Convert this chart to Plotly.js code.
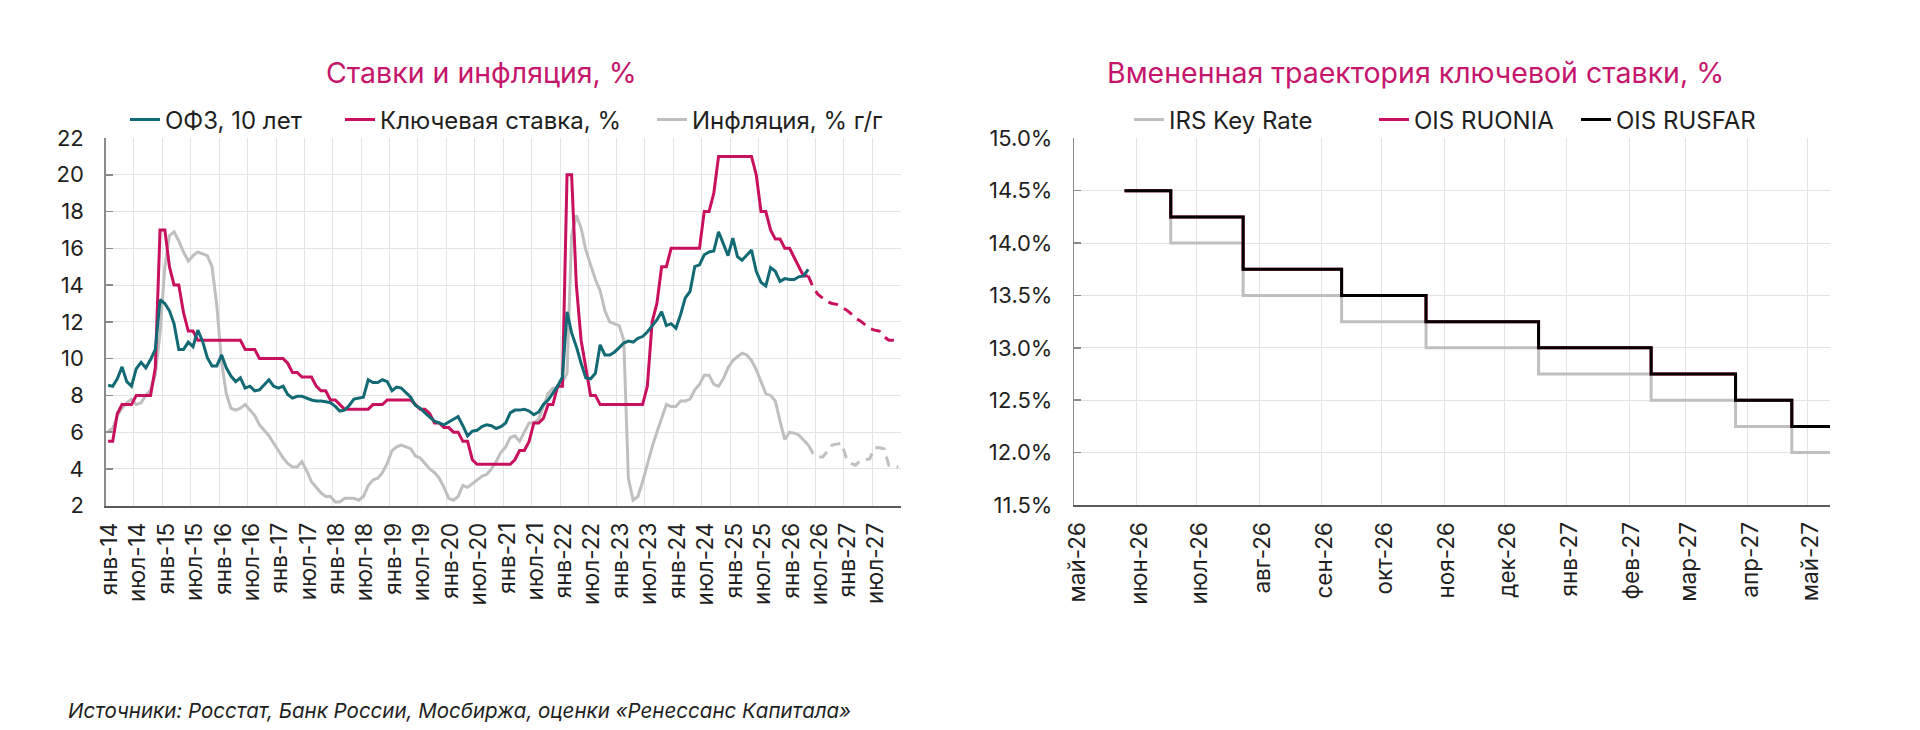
<!DOCTYPE html>
<html lang="ru">
<head>
<meta charset="utf-8">
<title>Ставки и инфляция</title>
<script src="https://cdn.plot.ly/plotly-3.0.1.min.js"></script>
<style>
  html, body { margin: 0; padding: 0; background: #ffffff; }
  #chart { width: 1920px; height: 730px; }
</style>
</head>
<body>
<div id="chart"></div>
<script>
// ---------- Left panel: monthly data from Jan 2014 ----------
const ofz10y = [
  8.55, 8.5, 8.9, 9.55, 8.75, 8.5, 9.45, 9.8, 9.5, 9.95, 10.5, 13.2,      // 2014
  13.0, 12.6, 11.9, 10.5, 10.5, 10.9, 10.65, 11.55, 10.95, 10.05, 9.6, 9.6, // 2015
  10.2, 9.5, 9.05, 8.75, 8.95, 8.4, 8.5, 8.25, 8.3, 8.55, 8.85, 8.5,      // 2016
  8.4, 8.5, 8.05, 7.85, 7.95, 7.95, 7.85, 7.75, 7.7, 7.7, 7.65, 7.6,      // 2017
  7.4, 7.15, 7.2, 7.45, 7.8, 7.85, 7.9, 8.85, 8.7, 8.7, 8.85, 8.75,       // 2018
  8.25, 8.45, 8.4, 8.15, 7.9, 7.45, 7.3, 7.05, 6.8, 6.6, 6.5, 6.4,        // 2019
  6.55, 6.7, 6.85, 6.35, 5.8, 6.05, 6.1, 6.3, 6.4, 6.35, 6.2, 6.3,        // 2020
  6.5, 7.05, 7.2, 7.2, 7.25, 7.15, 6.95, 7.1, 7.5, 7.75, 8.15, 8.5,       // 2021
  9.0, 12.55, 11.4, 10.65, 9.75, 8.95, 8.9, 9.2, 10.75, 10.2, 10.2, 10.35, // 2022
  10.6, 10.85, 10.95, 10.9, 11.1, 11.2, 11.45, 11.8, 12.1, 12.55, 11.8, 11.9, // 2023
  11.65, 12.4, 13.3, 13.65, 15.0, 15.1, 15.65, 15.8, 15.85, 16.9, 16.2, 15.6, // 2024
  16.55, 15.55, 15.35, 15.6, 15.9, 14.75, 14.15, 13.95, 14.95, 14.75, 14.2, 14.35, // 2025
  14.3, 14.3, 14.45, 14.5, 14.85                                           // 2026
];

const keyRate = [
  5.5, 5.5, 7.0, 7.5, 7.5, 7.5, 8.0, 8.0, 8.0, 8.0, 9.5, 17,              // 2014
  17, 15, 14, 14, 12.5, 11.5, 11.5, 11, 11, 11, 11, 11,                   // 2015
  11, 11, 11, 11, 11, 10.5, 10.5, 10.5, 10, 10, 10, 10,                   // 2016
  10, 10, 9.75, 9.25, 9.25, 9.0, 9.0, 9.0, 8.5, 8.25, 8.25, 7.75,         // 2017
  7.75, 7.5, 7.25, 7.25, 7.25, 7.25, 7.25, 7.25, 7.5, 7.5, 7.5, 7.75,     // 2018
  7.75, 7.75, 7.75, 7.75, 7.75, 7.5, 7.25, 7.25, 7.0, 6.5, 6.5, 6.25,     // 2019
  6.25, 6.0, 6.0, 5.5, 5.5, 4.5, 4.25, 4.25, 4.25, 4.25, 4.25, 4.25,      // 2020
  4.25, 4.25, 4.5, 5.0, 5.0, 5.5, 6.5, 6.5, 6.75, 7.5, 7.5, 8.5,          // 2021
  8.5, 20, 20, 14, 11, 9.5, 8, 8, 7.5, 7.5, 7.5, 7.5,                     // 2022
  7.5, 7.5, 7.5, 7.5, 7.5, 7.5, 8.5, 12, 13, 15, 15, 16,                  // 2023
  16, 16, 16, 16, 16, 16, 18, 18, 19, 21, 21, 21,                         // 2024
  21, 21, 21, 21, 21, 20, 18, 18, 17, 16.5, 16.5, 16,                     // 2025
  16, 15.5, 15, 14.5, 14.5                                                // 2026
];

const inflation = [
  6.05, 6.2, 6.9, 7.3, 7.6, 7.8, 7.5, 7.6, 8.0, 8.3, 9.1, 11.4,           // 2014
  15.0, 16.7, 16.9, 16.4, 15.8, 15.3, 15.6, 15.8, 15.7, 15.6, 15.0, 12.9, // 2015
  9.8, 8.1, 7.3, 7.2, 7.3, 7.5, 7.2, 6.9, 6.4, 6.1, 5.8, 5.4,             // 2016
  5.0, 4.6, 4.3, 4.1, 4.1, 4.4, 3.9, 3.3, 3.0, 2.7, 2.5, 2.5,             // 2017
  2.2, 2.2, 2.4, 2.4, 2.4, 2.3, 2.5, 3.1, 3.4, 3.5, 3.8, 4.3,             // 2018
  5.0, 5.2, 5.3, 5.2, 5.1, 4.7, 4.6, 4.3, 4.0, 3.8, 3.5, 3.0,             // 2019
  2.4, 2.3, 2.5, 3.1, 3.0, 3.2, 3.4, 3.6, 3.7, 4.0, 4.4, 4.9,             // 2020
  5.2, 5.7, 5.8, 5.5, 6.0, 6.5, 6.5, 6.7, 7.4, 8.1, 8.4, 8.4,             // 2021
  8.7, 9.2, 16.7, 17.8, 17.1, 15.9, 15.1, 14.3, 13.7, 12.6, 12.0, 11.9,   // 2022
  11.8, 11.0, 3.5, 2.3, 2.5, 3.3, 4.3, 5.2, 6.0, 6.7, 7.5, 7.4,           // 2023
  7.4, 7.7, 7.7, 7.8, 8.3, 8.6, 9.1, 9.1, 8.6, 8.5, 8.9, 9.5,             // 2024
  9.9, 10.1, 10.3, 10.2, 9.9, 9.4, 8.8, 8.1, 8.0, 7.7, 6.6, 5.6,          // 2025
  6.0, 5.95, 5.85, 5.6, 5.3                                               // 2026
];

// Forecast path, May 2026 - Dec 2027
const keyRateForecast = [
  14.5, 13.9, 13.5, 13.3, 13.1, 13.0, 12.95, 12.8,                        // 2026
  12.65, 12.45, 12.2, 12.05, 11.85, 11.65, 11.55, 11.5, 11.2, 11.0, 11.0, 11.0 // 2027
];
const inflationForecast = [
  5.3, 4.85, 4.65, 4.65, 4.95, 5.3, 5.35, 5.4,                            // 2026
  4.6, 4.3, 4.2, 4.45, 4.5, 4.55, 5.15, 5.15, 5.1, 4.2, 4.15, 4.1         // 2027
];

const halfYearLabels = [
  'янв-14', 'июл-14', 'янв-15', 'июл-15', 'янв-16', 'июл-16', 'янв-17', 'июл-17',
  'янв-18', 'июл-18', 'янв-19', 'июл-19', 'янв-20', 'июл-20', 'янв-21', 'июл-21',
  'янв-22', 'июл-22', 'янв-23', 'июл-23', 'янв-24', 'июл-24', 'янв-25', 'июл-25',
  'янв-26', 'июл-26', 'янв-27', 'июл-27', ''
];

// ---------- Right panel: implied key-rate path ----------
const meetingDates = [
  '2026-05-26', '2026-06-18', '2026-07-24', '2026-09-11', '2026-10-23',
  '2026-12-18', '2027-02-12', '2027-03-26', '2027-04-23', '2027-05-12'
];
const irsKeyRate = [14.5, 14.0, 13.5, 13.25, 13.0, 12.75, 12.5, 12.25, 12.0, 12.0];
const oisRuonia  = [14.5, 14.25, 13.75, 13.5, 13.25, 13.0, 12.75, 12.5, 12.25, 12.25];
const oisRusfar  = [14.5, 14.25, 13.75, 13.5, 13.25, 13.0, 12.75, 12.5, 12.25, 12.25];

const monthLabels = [
  'май-26', 'июн-26', 'июл-26', 'авг-26', 'сен-26', 'окт-26', 'ноя-26',
  'дек-26', 'янв-27', 'фев-27', 'мар-27', 'апр-27', 'май-27'
];

// ---------- helpers ----------
function monthSeq(year, month, count, step) {
  const out = [];
  for (let i = 0; i < count; i++) {
    const m = month - 1 + i * (step || 1);
    const y = year + Math.floor(m / 12);
    const mm = (m % 12) + 1;
    out.push(y + '-' + String(mm).padStart(2, '0') + '-01');
  }
  return out;
}

const W = 1920, H = 730;
const px = v => v / W;
const py = v => 1 - v / H;

const actualMonths   = monthSeq(2014, 1, ofz10y.length);
const forecastMonths = monthSeq(2026, 5, keyRateForecast.length);
const halfYearTicks  = monthSeq(2014, 1, halfYearLabels.length, 6);
const monthTicks     = monthSeq(2026, 5, monthLabels.length);

const TEAL = '#116a74';
const CRIMSON = '#c8105e';
const GREY = '#bfbfbf';
const TITLE = '#c4166c';
const TEXT = '#1f1f1f';
const GRID = '#e4e4e4';

const monthly = { xperiod: 'M1', xperiodalignment: 'middle', mode: 'lines', hoverinfo: 'skip' };

const traces = [
  Object.assign({ x: actualMonths, y: inflation, name: 'Инфляция, % г/г',
    line: { color: GREY, width: 3 }, legend: 'legend3' }, monthly),
  Object.assign({ x: forecastMonths, y: inflationForecast, showlegend: false,
    line: { color: GREY, width: 3, dash: '10px,7px' } }, monthly),
  Object.assign({ x: actualMonths, y: keyRate, name: 'Ключевая ставка, %',
    line: { color: CRIMSON, width: 3 }, legend: 'legend2' }, monthly),
  Object.assign({ x: forecastMonths, y: keyRateForecast, showlegend: false,
    line: { color: CRIMSON, width: 3, dash: '10px,7px' } }, monthly),
  Object.assign({ x: actualMonths, y: ofz10y, name: 'ОФЗ, 10 лет',
    line: { color: TEAL, width: 3 }, legend: 'legend' }, monthly),

  { x: meetingDates, y: irsKeyRate, name: 'IRS Key Rate', xaxis: 'x2', yaxis: 'y2',
    mode: 'lines', line: { color: GREY, width: 3, shape: 'hv' }, legend: 'legend4', hoverinfo: 'skip' },
  { x: meetingDates, y: oisRuonia, name: 'OIS RUONIA', xaxis: 'x2', yaxis: 'y2',
    mode: 'lines', line: { color: CRIMSON, width: 3, shape: 'hv' }, legend: 'legend5', hoverinfo: 'skip' },
  { x: meetingDates, y: oisRusfar, name: 'OIS RUSFAR', xaxis: 'x2', yaxis: 'y2',
    mode: 'lines', line: { color: '#000000', width: 3, shape: 'hv' }, legend: 'legend6', hoverinfo: 'skip' }
];

function legendAt(xPx) {
  return {
    x: px(xPx), y: py(120), xanchor: 'left', yanchor: 'middle',
    orientation: 'h', bgcolor: 'rgba(0,0,0,0)', borderwidth: 0,
    font: { size: 24, color: TEXT }
  };
}

const xCommon = {
  type: 'date', tickmode: 'array', tickangle: -90,
  showgrid: true, gridcolor: GRID, gridwidth: 1,
  showline: true, linecolor: '#5a5a5a', linewidth: 2,
  ticks: '', zeroline: false, fixedrange: true,
  tickfont: { size: 22.5, color: TEXT }
};
const yCommon = {
  showgrid: true, gridcolor: GRID, gridwidth: 1,
  showline: true, linecolor: '#8a8a8a', linewidth: 1.5,
  ticks: 'inside', ticklen: 7, tickcolor: '#8a8a8a', tickwidth: 1.5,
  zeroline: false, fixedrange: true, ticklabelstandoff: 16,
  tickfont: { size: 22, color: TEXT }
};

const layout = {
  width: W, height: H,
  margin: { l: 0, r: 0, t: 0, b: 0 },
  paper_bgcolor: '#ffffff', plot_bgcolor: '#ffffff',
  font: { family: 'Inter, "Noto Sans", sans-serif', color: TEXT },
  showlegend: true,
  xaxis: Object.assign({}, xCommon, {
    domain: [px(105.7), px(900.7)], anchor: 'y',
    range: ['2014-01-01', '2028-01-01'],
    tickvals: halfYearTicks, ticktext: halfYearLabels,
    ticklabelshift: 4, ticklabelstandoff: 6
  }),
  yaxis: Object.assign({}, yCommon, {
    domain: [py(505.7), py(138)], anchor: 'x',
    range: [2, 22], tick0: 2, dtick: 2
  }),
  xaxis2: Object.assign({}, xCommon, {
    domain: [px(1074.3), px(1830)], anchor: 'y2',
    range: ['2026-05-01', '2027-05-12'],
    tickvals: monthTicks, ticktext: monthLabels,
    ticklabelshift: 3, ticklabelstandoff: 6
  }),
  yaxis2: Object.assign({}, yCommon, {
    domain: [py(505), py(138.3)], anchor: 'x2',
    range: [11.5, 15], tick0: 11.5, dtick: 0.5,
    tickformat: '.1f', ticksuffix: '%'
  }),
  legend: legendAt(125),
  legend2: legendAt(340),
  legend3: legendAt(652),
  legend4: legendAt(1129),
  legend5: legendAt(1374),
  legend6: legendAt(1576),
  annotations: [
    { text: 'Ставки и инфляция, %', xref: 'paper', yref: 'paper',
      x: px(481), y: py(73), xanchor: 'center', yanchor: 'middle', showarrow: false,
      font: { size: 28.5, color: TITLE } },
    { text: 'Вмененная траектория ключевой ставки, %', xref: 'paper', yref: 'paper',
      x: px(1415), y: py(73), xanchor: 'center', yanchor: 'middle', showarrow: false,
      font: { size: 28.5, color: TITLE } },
    { text: '<i>Источники: Росстат, Банк России, Мосбиржа, оценки «Ренессанс Капитала»</i>',
      xref: 'paper', yref: 'paper', x: px(66), y: py(710), xanchor: 'left', yanchor: 'middle',
      showarrow: false, font: { size: 20.5, color: TEXT } }
  ]
};

Plotly.newPlot('chart', traces, layout, { staticPlot: true, displayModeBar: false });
</script>
</body>
</html>
